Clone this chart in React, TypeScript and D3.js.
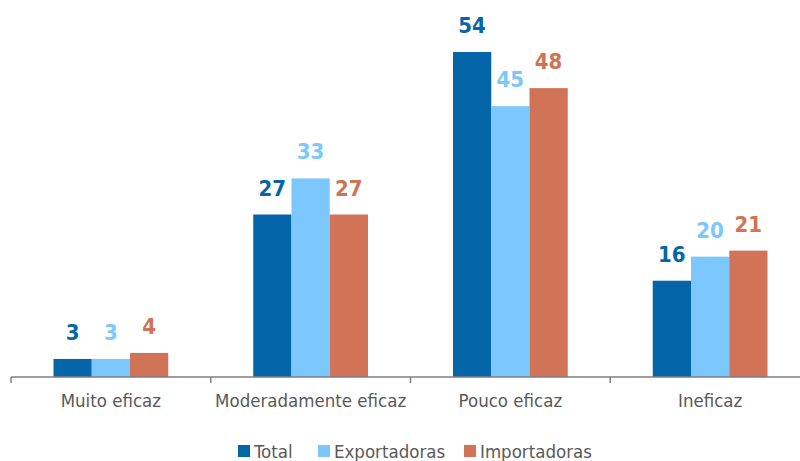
import * as d3 from "d3";
import { useEffect, useRef } from "react";

const categories = ["Muito eficaz", "Moderadamente eficaz", "Pouco eficaz", "Ineficaz"];
const seriesNames = ["Total", "Exportadoras", "Importadoras"];
const totalValues = [3, 27, 54, 16];
const exportValues = [3, 33, 45, 20];
const importValues = [4, 27, 48, 21];
const seriesColors = ["#0466a9", "#7cc7fd", "#d17356"];

const W = 800;
const H = 461;
const FONT = "'Liberation Sans Narrow', 'DejaVu Sans Condensed', 'Roboto', sans-serif";

const App = () => {
  const svgRef = useRef(null);

  useEffect(() => {
    document.body.style.margin = "0";
    document.body.style.overflow = "hidden";

    const svg = d3.select(svgRef.current);
    svg.selectAll("*").remove();

    const allValues = [totalValues, exportValues, importValues];
    const rows = categories.map((c, i) => ({
      name: c,
      values: allValues.map((vals, s) => ({ key: seriesNames[s], value: vals[i], s })),
    }));

    const axisY = 377;
    const x0 = d3.scaleBand().domain(categories).range([11, 810]).padding(0);
    const x1 = d3
      .scaleBand()
      .domain(seriesNames)
      .range([42.5, x0.bandwidth() - 42.5])
      .padding(0);
    const y = d3.scaleLinear().domain([0, 54]).range([axisY, 52]);

    const groups = svg
      .selectAll(".grp")
      .data(rows)
      .join("g")
      .attr("class", "grp")
      .attr("transform", (d) => `translate(${x0(d.name)},0)`);

    groups
      .selectAll("rect")
      .data((d) => d.values)
      .join("rect")
      .attr("x", (d) => x1(d.key))
      .attr("y", (d) => y(d.value))
      .attr("width", x1.bandwidth())
      .attr("height", (d) => axisY - y(d.value))
      .attr("fill", (d) => seriesColors[d.s]);

    groups
      .selectAll("text.val")
      .data((d) => d.values)
      .join("text")
      .attr("class", "val")
      .attr("x", (d) => x1(d.key) + x1.bandwidth() / 2)
      .attr("y", (d) => y(d.value) - 19)
      .attr("text-anchor", "middle")
      .attr("font-family", FONT)
      .attr("font-weight", "bold")
      .attr("font-size", 22)
      .attr("fill", (d) => seriesColors[d.s])
      .text((d) => d.value);

    // x axis
    const axis = svg
      .append("g")
      .attr("transform", `translate(0,${axisY})`)
      .call(d3.axisBottom(x0).tickSize(0).tickPadding(17));
    axis.select(".domain").attr("stroke", "#7f7f7f").attr("stroke-width", 1.5).attr("d", `M11,0H810`);
    axis
      .selectAll(".tick text")
      .attr("font-family", FONT)
      .attr("font-size", 18.5)
      .attr("fill", "#595959");
    axis
      .selectAll(".sep")
      .data(x0.domain().concat(["end"]))
      .join("line")
      .attr("class", "sep")
      .attr("x1", (d, i) => 11 + i * x0.step())
      .attr("x2", (d, i) => 11 + i * x0.step())
      .attr("y1", 0)
      .attr("y2", 6)
      .attr("stroke", "#7f7f7f")
      .attr("stroke-width", 1.5);

    // legend
    const legend = svg.append("g").attr("transform", `translate(0,445)`);
    const legendX = [238, 318, 464];
    seriesNames.forEach((name, i) => {
      legend
        .append("rect")
        .attr("x", legendX[i])
        .attr("y", 0)
        .attr("width", 12)
        .attr("height", 12)
        .attr("fill", seriesColors[i]);
      legend
        .append("text")
        .attr("x", legendX[i] + 16)
        .attr("y", 12.5)
        .attr("font-family", FONT)
        .attr("font-size", 18.5)
        .attr("fill", "#595959")
        .text(name);
    });
  }, []);

  return (
    <svg
      ref={svgRef}
      width={W}
      height={H}
      style={{ display: "block", position: "absolute", left: 0, top: 0 }}
    />
  );
};

export default App;
